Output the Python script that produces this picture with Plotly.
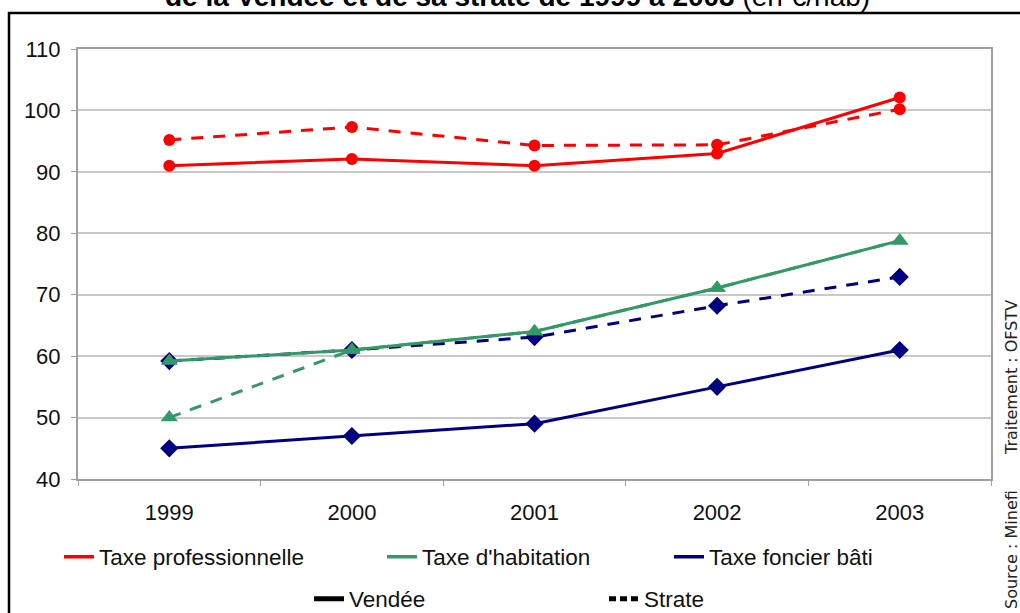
import plotly.graph_objects as go

# Years shown on the category axis
years = ["1999", "2000", "2001", "2002", "2003"]

# Product per inhabitant (EUR/hab), Vendée vs. its reference stratum
tp_vendee = [91.0, 92.1, 91.0, 93.0, 102.1]
tp_strate = [95.2, 97.3, 94.3, 94.4, 100.2]
th_vendee = [59.2, 61.0, 64.0, 71.1, 78.8]
th_strate = [50.0, 61.0, 64.0, 71.1, 78.8]
tfb_vendee = [45.0, 47.0, 49.0, 55.0, 61.0]
tfb_strate = [59.2, 61.0, 63.1, 68.2, 72.9]

tax_names = ["Taxe professionnelle", "Taxe d'habitation", "Taxe foncier bâti"]
scope_names = ["Vendée", "Strate"]

RED = "#ff0000"
GREEN = "#339966"
NAVY = "#000080"
DASH = "12px,10px"

# Plot-area geometry in pixels (used to place things in paper coordinates)
W, H = 1020, 613
L, R, T, B = 78, 29, 49, 134
PW, PH = W - L - R, H - T - B


def px_x(x):
    return (x - L) / PW


def px_y(y):
    return (H - B - y) / PH


fig = go.Figure()

series = [
    (tfb_vendee, NAVY, "solid", "diamond", 14),
    (tfb_strate, NAVY, DASH, "diamond", 14),
    (th_strate, GREEN, DASH, "triangle-up", 15),
    (th_vendee, GREEN, "solid", "triangle-up", 15),
    (tp_strate, RED, DASH, "circle", 12),
    (tp_vendee, RED, "solid", "circle", 12),
]
for vals, color, dash, symbol, size in series:
    fig.add_trace(go.Scatter(
        x=years, y=vals, mode="lines+markers",
        line=dict(color=color, width=3, dash=dash),
        marker=dict(symbol=symbol, size=size, color=color),
        showlegend=False, hoverinfo="x+y",
    ))

# Legend entries: one legend per entry so each can be placed freely
legend_entries = [
    (tax_names[0], RED, "solid", 3.5, "legend", 59, 557),
    (tax_names[1], GREEN, "solid", 3.5, "legend2", 382, 557),
    (tax_names[2], NAVY, "solid", 3.5, "legend3", 669, 557),
    (scope_names[0], "black", "solid", 5, "legend4", 309, 599),
    (scope_names[1], "black", "7px,4px", 5, "legend5", 604, 599),
]
legend_layout = {}
for name, color, dash, width, lg, lx, ly in legend_entries:
    fig.add_trace(go.Scatter(
        x=[None], y=[None], mode="lines", name=name,
        line=dict(color=color, width=width, dash=dash),
        legend=lg, showlegend=True,
    ))
    legend_layout[lg] = dict(
        x=px_x(lx), y=px_y(ly), xanchor="left", yanchor="middle",
        orientation="h", bgcolor="rgba(0,0,0,0)", borderwidth=0,
        font=dict(family="Liberation Sans, Arial, sans-serif", size=22.5, color="#111"),
    )

axis_font = dict(family="Liberation Sans, Arial, sans-serif", size=22, color="#111")

fig.update_layout(
    width=W, height=H,
    margin=dict(l=L, r=R, t=T, b=B, autoexpand=False),
    paper_bgcolor="white", plot_bgcolor="white",
    xaxis=dict(
        type="category", range=[-0.5, 4.5],
        showgrid=False, showline=True, mirror=True,
        linecolor="#a0a0a0", linewidth=2,
        ticks="outside", tickson="boundaries", ticklen=5, tickcolor="#a0a0a0",
        tickfont=axis_font, ticklabelstandoff=13,
    ),
    yaxis=dict(
        range=[40, 110], dtick=10, tick0=40,
        showgrid=True, gridcolor="#c8c8c8", gridwidth=1.5,
        showline=True, mirror=True, linecolor="#a0a0a0", linewidth=2,
        ticks="outside", ticklen=5, tickcolor="#a0a0a0",
        tickfont=axis_font, ticklabelstandoff=6, zeroline=False,
    ),
    **legend_layout,
)

# Outer frame around the whole chart
fig.add_shape(
    type="rect", xref="paper", yref="paper",
    x0=px_x(9), x1=px_x(1035), y0=px_y(630), y1=px_y(13),
    line=dict(color="black", width=2.5), fillcolor="rgba(0,0,0,0)", layer="above",
)

# Title (top of the frame)
fig.add_annotation(
    xref="paper", yref="paper", x=px_x(517), y=px_y(14),
    xanchor="center", yanchor="bottom", showarrow=False,
    text="<b>de la Vendée et de sa strate de 1999 à 2003</b> (en €/hab)",
    font=dict(family="Liberation Sans, Arial, sans-serif", size=28, color="black"),
)

# Source notes along the right edge
for txt, cy in [("Traitement : OFSTV", 378), ("Source : Minefi", 550)]:
    fig.add_annotation(
        xref="paper", yref="paper", x=px_x(1011), y=px_y(cy),
        xanchor="center", yanchor="middle", showarrow=False, textangle=-90,
        text=txt,
        font=dict(family="DejaVu Sans, Verdana, sans-serif", size=16, color="#222"),
    )

fig.write_html("out.html")
